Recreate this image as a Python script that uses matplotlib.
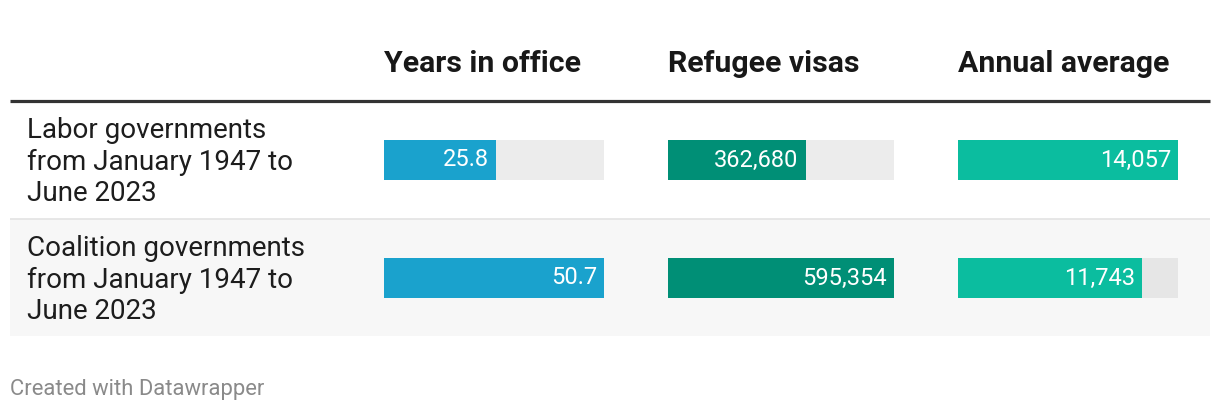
import matplotlib
matplotlib.use("Agg")
import matplotlib.pyplot as plt
from matplotlib.patches import Rectangle

plt.rcParams['font.family'] = ['Roboto', 'DejaVu Sans']

rows = ["Labor governments\nfrom January 1947 to\nJune 2023",
        "Coalition governments\nfrom January 1947 to\nJune 2023"]
columns = ["Years in office", "Refugee visas", "Annual average"]
years = [25.8, 50.7]
visas = [362680, 595354]
annual = [14057, 11743]
labels_years = ["25.8", "50.7"]
labels_visas = ["362,680", "595,354"]
labels_annual = ["14,057", "11,743"]
colors = ["#1aa2cd", "#008f76", "#0bbd9f"]

W, H = 1220, 412
fig = plt.figure(figsize=(W / 100, H / 100), dpi=100)
fig.patch.set_facecolor("white")

# background axes in pixel coordinates for table decoration
bg = fig.add_axes([0, 0, 1, 1])
bg.set_xlim(0, W)
bg.set_ylim(H, 0)
bg.axis("off")
bg.add_patch(Rectangle((10, 219), 1200, 117, facecolor="#f7f7f7", edgecolor="none"))
bg.plot([10, 1210], [100.5, 100.5], color="#333333", lw=2.3, solid_capstyle="butt")
bg.plot([10, 1210], [218.5, 218.5], color="#e3e3e3", lw=1.2, solid_capstyle="butt")

row_centers = [160, 278]
for i, r in enumerate(rows):
    bg.text(27, row_centers[i] + 2, r, fontsize=20, color="#1d1d1d",
            va="center", ha="left", linespacing=1.22)

col_x = [(384, 604), (668, 894), (958, 1178)]
data = [years, visas, annual]
labels = [labels_years, labels_visas, labels_annual]
for j, name in enumerate(columns):
    bg.text(col_x[j][0], 64, name, fontsize=21.8, fontweight="bold",
            color="#181818", va="center", ha="left")

bg.text(10, 389, "Created with Datawrapper", fontsize=15.8, color="#8a8a8a",
        va="center", ha="left")

top, bottom = 101, 337
for j in range(3):
    x0, x1 = col_x[j]
    ax = fig.add_axes([x0 / W, 1 - bottom / H, (x1 - x0) / W, (bottom - top) / H])
    ax.patch.set_alpha(0)
    vals = data[j]
    vmax = max(vals)
    ypos = list(range(len(vals)))
    ax.barh(ypos, [vmax] * len(vals), height=40 / 118,
            color=["#ececec", "#e6e6e6"], edgecolor="none")
    ax.barh(ypos, vals, height=40 / 118, color=colors[j], edgecolor="none")
    ax.set_xlim(0, vmax)
    ax.set_ylim(len(vals) - 0.5, -0.5)
    ax.axis("off")
    for k, v in enumerate(vals):
        ax.annotate(labels[j][k], xy=(v, k), xytext=(-5, 0), textcoords="offset points",
                    ha="right", va="center", color="white", fontsize=17)

fig.savefig("out.png", dpi=100, facecolor="white")
